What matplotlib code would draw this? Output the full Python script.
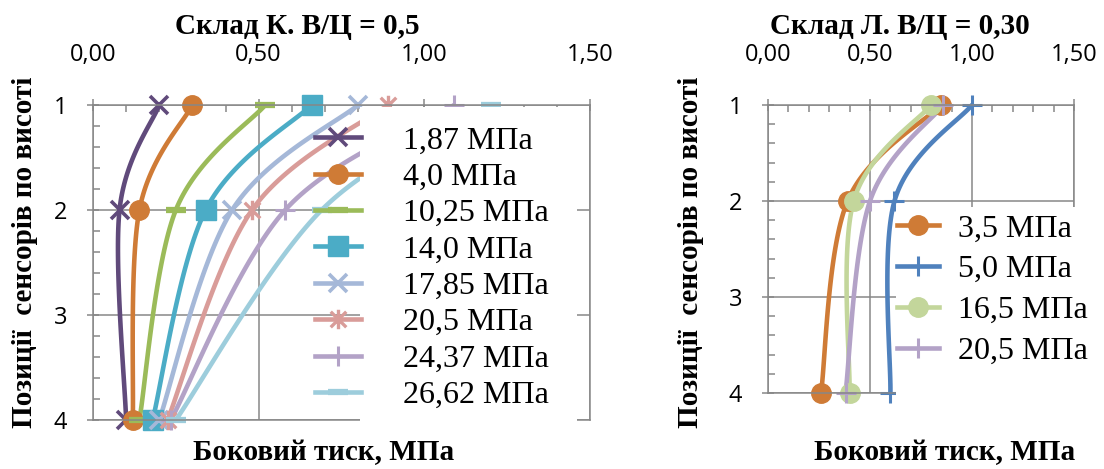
import numpy as np
import matplotlib.pyplot as plt
from matplotlib.lines import Line2D
from matplotlib.patches import Rectangle
from matplotlib.path import Path
from matplotlib.ticker import MultipleLocator, FuncFormatter

# sensor positions along the height (1 = top)
positions = [1, 2, 4]

# mix K, W/C = 0.5 : lateral pressure at sensors 1, 2, 4
k_labels = ["1,87 МПа", "4,0 МПа", "10,25 МПа", "14,0 МПа",
            "17,85 МПа", "20,5 МПа", "24,37 МПа", "26,62 МПа"]
k_values = [
    [0.20, 0.08, 0.10],
    [0.30, 0.14, 0.12],
    [0.52, 0.25, 0.14],
    [0.66, 0.34, 0.18],
    [0.80, 0.42, 0.20],
    [0.89, 0.48, 0.225],
    [1.09, 0.58, 0.235],
    [1.20, 0.69, 0.25],
]

# mix L, W/C = 0.30
l_labels = ["3,5 МПа", "5,0 МПа", "16,5 МПа", "20,5 МПа"]
l_values = [
    [0.85, 0.39, 0.26],
    [1.00, 0.62, 0.60],
    [0.80, 0.42, 0.40],
    [0.86, 0.50, 0.38],
]

star = Path([(-0.8, -0.8), (0.8, 0.8), (-0.8, 0.8), (0.8, -0.8), (0, -1), (0, 1)],
            [Path.MOVETO, Path.LINETO, Path.MOVETO, Path.LINETO, Path.MOVETO, Path.LINETO])

k_styles = [
    ("#604A7B", "x", 13, 2.6),
    ("#CF7B36", "o", 14, 1.0),
    ("#9BBB59", "_", 14, 4.5),
    ("#4BACC6", "s", 14, 1.0),
    ("#A5B8D8", "x", 13, 2.6),
    ("#D99C99", star, 14, 2.4),
    ("#B3A2C7", "+", 14, 2.2),
    ("#9DCDDC", "_", 14, 4.5),
]
l_styles = [
    ("#CF7B36", "o", 14, 1.0),
    ("#4F81BD", "+", 14, 2.2),
    ("#C3D69B", "o", 14, 1.0),
    ("#B3A2C7", "+", 14, 2.2),
]

GRAY = "#878787"
SERIF = "Liberation Serif"
TICKFONT = "Open Sans"
LW = 3.3


def smooth(xs, ys, n=40):
    # bezier smoothing through the points (catmull-rom control points)
    pts = np.column_stack([xs, ys]).astype(float)
    ext = np.vstack([pts[0], pts, pts[-1]])
    t = np.linspace(0, 1, n)[:, None]
    out = []
    for i in range(len(pts) - 1):
        p0, p1, p2, p3 = ext[i], ext[i + 1], ext[i + 2], ext[i + 3]
        c1 = p1 + (p2 - p0) / 6
        c2 = p2 - (p3 - p1) / 6
        seg = (1 - t) ** 3 * p1 + 3 * (1 - t) ** 2 * t * c1 + 3 * (1 - t) * t ** 2 * c2 + t ** 3 * p2
        out.append(seg if i == 0 else seg[1:])
    out = np.vstack(out)
    return out[:, 0], out[:, 1]


def setup(ax):
    ax.set_xlim(0, 1.5)
    ax.set_ylim(4, 1)
    ax.xaxis.set_major_locator(MultipleLocator(0.5))
    ax.xaxis.set_minor_locator(MultipleLocator(0.1))
    ax.yaxis.set_major_locator(MultipleLocator(1))
    ax.yaxis.set_minor_locator(MultipleLocator(0.2))
    ax.xaxis.set_major_formatter(FuncFormatter(lambda v, p: f"{v:.2f}".replace(".", ",")))
    ax.yaxis.set_major_formatter(FuncFormatter(lambda v, p: f"{v:.0f}"))
    ax.tick_params(axis="x", which="major", top=True, bottom=False, labeltop=True,
                   labelbottom=False, direction="inout", length=9, width=1.1,
                   color=GRAY, pad=23, labelsize=17)
    ax.tick_params(axis="x", which="minor", top=True, bottom=False, direction="in",
                   length=5, width=1.1, color=GRAY)
    ax.tick_params(axis="y", which="major", left=True, right=False, direction="inout",
                   length=9, width=1.1, color=GRAY, pad=14, labelsize=17)
    ax.tick_params(axis="y", which="minor", left=True, right=False, direction="in",
                   length=5, width=1.1, color=GRAY)
    for lab in ax.get_xticklabels() + ax.get_yticklabels():
        lab.set_fontfamily(TICKFONT)
    for s in ax.spines.values():
        s.set_color(GRAY)
        s.set_linewidth(1.1)
    ax.set_axisbelow(True)
    ax.grid(True, which="major", color=GRAY, lw=1.1)


def draw(ax, values, styles):
    handles = []
    for vals, (c, m, ms, mew) in zip(values, styles):
        sx, sy = smooth(vals, positions)
        ax.plot(sx, sy, color=c, lw=LW, solid_capstyle="round", zorder=2, clip_on=False)
        ax.plot(vals, positions, ls="none", marker=m, ms=ms, mew=mew, mec=c, mfc=c,
                zorder=2.1, clip_on=False)
        handles.append(Line2D([], [], color=c, lw=LW, marker=m, ms=ms, mew=mew, mec=c, mfc=c))
    return handles


fig = plt.figure(figsize=(11.04, 4.69), dpi=100)
W, H = 1104, 469

ax1 = fig.add_axes([93 / W, 1 - 420 / H, (590 - 93) / W, (420 - 105) / H])
ax2 = fig.add_axes([768 / W, 1 - 393 / H, (1074 - 768) / W, (393 - 105) / H])
setup(ax1)
setup(ax2)

h1 = draw(ax1, k_values, k_styles)
h2 = draw(ax2, l_values, l_styles)

# white legend backgrounds
ax1.add_patch(Rectangle((0.807, 1.015), 0.655, 2.985, fc="white", ec="none", zorder=2.3, clip_on=False))
ax1.add_patch(Rectangle((0.807, 3.98), 0.655, 0.1, fc="white", ec="none", zorder=3, clip_on=False))
ax2.add_patch(Rectangle((0.625, 2.06), 1.0, 2.1, fc="white", ec="none", zorder=3, clip_on=False))

fig.legend(h1, k_labels, loc="upper left", bbox_to_anchor=(315 / W, 1 - 126 / H),
           frameon=False, prop={"family": SERIF, "size": 23}, borderpad=0,
           borderaxespad=0, labelspacing=0.22, handlelength=1.45, handletextpad=1.3,
           numpoints=1)
fig.legend(h2, l_labels, loc="upper left", bbox_to_anchor=(897 / W, 1 - 214 / H),
           frameon=False, prop={"family": SERIF, "size": 23}, borderpad=0,
           borderaxespad=0, labelspacing=0.36, handlelength=1.3, handletextpad=0.6,
           numpoints=1)

tfont = {"family": SERIF, "weight": "bold", "size": 21}
fig.text(297 / W, 1 - 34 / H, "Склад К. В/Ц = 0,5", ha="center", va="baseline", **tfont)
fig.text(900 / W, 1 - 34 / H, "Склад Л. В/Ц = 0,30", ha="center", va="baseline", **tfont)
fig.text(324 / W, 1 - 460 / H, "Боковий тиск, МПа", ha="center", va="baseline", **tfont)
fig.text(945 / W, 1 - 460 / H, "Боковий тиск, МПа", ha="center", va="baseline", **tfont)
fig.text(25 / W, 1 - 252 / H, "Позиції  сенсорів по висоті", ha="center", va="center",
         rotation=90, **tfont)
fig.text(690 / W, 1 - 252 / H, "Позиції  сенсорів по висоті", ha="center", va="center",
         rotation=90, **tfont)

fig.savefig("out.png", dpi=100)
